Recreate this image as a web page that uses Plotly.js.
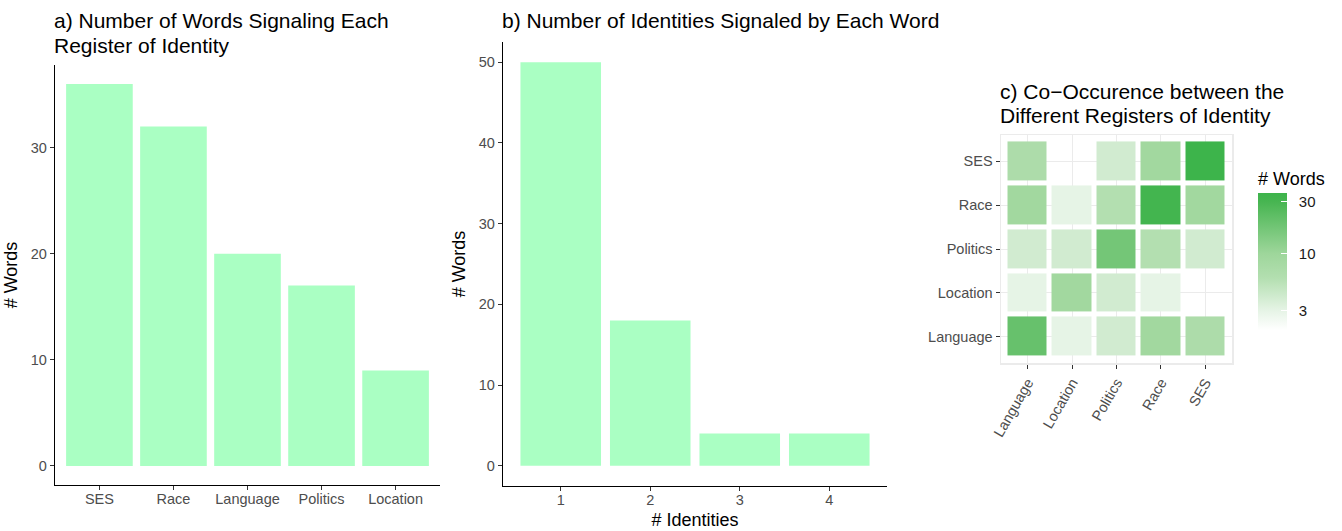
<!DOCTYPE html>
<html>
<head>
<meta charset="utf-8">
<script src="https://cdn.plot.ly/plotly-3.0.1.min.js"></script>
<style>html,body{margin:0;padding:0;background:#fff;}#chart{width:1342px;height:531px;}</style>
</head>
<body>
<div id="chart"></div>
<script>
// ---- data ----
const registersSorted = ["SES", "Race", "Language", "Politics", "Location"];
const wordsPerRegister = [36, 32, 20, 17, 9];

const identityCounts = [1, 2, 3, 4];
const wordsPerIdentityCount = [50, 18, 4, 4];

const registers = ["Language", "Location", "Politics", "Race", "SES"];
// co-occurrence counts (rows = y register, cols = x register); null = none
const coOccurrence = [
  [20, 3, 4, 9, 7],
  [3, 9, 4, 3, null],
  [4, 4, 17, 6, 4],
  [9, 3, 6, 32, 9],
  [7, null, 4, 9, 36]
];
const colorTicks = [3, 10, 30];

// ---- helpers ----
const W = 1342, H = 531;
const fx = px => px / W;
const fy = px => 1 - px / H;
const FONT = "Liberation Sans, Arial, sans-serif";
const barColor = "#aaffc3";
const tickFont = {family: FONT, size: 14.5, color: "#4d4d4d"};
const axTitleFont = {family: FONT, size: 18, color: "#000"};
const titleFont = {family: FONT, size: 21, color: "#000"};

const logZ = coOccurrence.map(r => r.map(v => v == null ? null : Math.log10(v)));
const zmin = Math.log10(2), zmax = Math.log10(36);
const pos = v => (Math.log10(v) - zmin) / (zmax - zmin);

const traces = [
  {type: "bar", x: registersSorted, y: wordsPerRegister, xaxis: "x", yaxis: "y",
   marker: {color: barColor}, width: 0.9, showlegend: false},
  {type: "bar", x: identityCounts, y: wordsPerIdentityCount, xaxis: "x2", yaxis: "y2",
   marker: {color: barColor}, width: 0.9, showlegend: false},
  {type: "heatmap", x: registers, y: registers, z: logZ, xaxis: "x3", yaxis: "y3",
   xgap: 5, ygap: 5, zmin: zmin, zmax: zmax, hoverongaps: false,
   colorscale: [[0, "#ffffff"], [pos(3), "#e6f4e6"], [pos(6), "#b3dfb0"], [pos(10), "#9ed69b"], [pos(30), "#47b551"], [1, "#3db44b"]],
   colorbar: {
     title: {text: "# Words", side: "top", font: {family: FONT, size: 18, color: "#000"}},
     thickness: 29, thicknessmode: "pixels", len: 162, lenmode: "pixels",
     x: fx(1258), xanchor: "left", y: fy(168), yanchor: "top", xpad: 0, ypad: 0,
     outlinewidth: 0, tickvals: colorTicks.map(Math.log10),
     ticktext: colorTicks.map(v => "\u00a0\u00a0" + v),
     ticks: "inside", tickcolor: "#ffffff", ticklen: 6, tickwidth: 1,
     tickfont: {family: FONT, size: 15, color: "#1a1a1a"}
   }}
];

const baseAxis = {
  showgrid: false, zeroline: false, showline: true, linecolor: "#000", linewidth: 1.2,
  ticks: "outside", ticklen: 4, tickcolor: "#333", tickwidth: 1, tickfont: tickFont,
  fixedrange: true
};

const layout = {
  width: W, height: H, margin: {l: 0, r: 0, t: 0, b: 0},
  paper_bgcolor: "#fff", plot_bgcolor: "rgba(0,0,0,0)",
  font: {family: FONT},
  showlegend: false,
  bargap: 0.1,
  xaxis: Object.assign({}, baseAxis, {domain: [fx(55), fx(440)], anchor: "y",
    type: "category", range: [-0.6, 4.6], ticklabelstandoff: -4}),
  yaxis: Object.assign({}, baseAxis, {domain: [fy(485), fy(65)], anchor: "x",
    range: [-1.8, 37.8], tickvals: [0, 10, 20, 30],
    title: {text: "# Words", font: axTitleFont, standoff: 8}}),
  xaxis2: Object.assign({}, baseAxis, {domain: [fx(503), fx(887)], anchor: "y2",
    range: [0.355, 4.645], tickvals: [1, 2, 3, 4], ticklabelstandoff: -4,
    title: {text: "# Identities", font: axTitleFont, standoff: 6}}),
  yaxis2: Object.assign({}, baseAxis, {domain: [fy(486), fy(42)], anchor: "x2",
    range: [-2.5, 52.5], tickvals: [0, 10, 20, 30, 40, 50],
    title: {text: "# Words", font: axTitleFont, standoff: 8}}),
  xaxis3: {domain: [fx(1001), fx(1232)], anchor: "y3", type: "category",
    range: [-0.6, 4.6], showgrid: true, gridcolor: "#ebebeb", gridwidth: 1,
    zeroline: false, showline: true, mirror: true, linecolor: "#ebebeb", linewidth: 1.5,
    ticks: "outside", ticklen: 4, tickcolor: "#333", tickangle: -60,
    tickfont: tickFont, fixedrange: true},
  yaxis3: {domain: [fy(363), fy(135)], anchor: "x3", type: "category",
    range: [-0.6, 4.6], showgrid: true, gridcolor: "#ebebeb", gridwidth: 1,
    zeroline: false, showline: true, mirror: true, linecolor: "#ebebeb", linewidth: 1.5,
    ticks: "outside", ticklen: 4, tickcolor: "#333",
    tickfont: tickFont, fixedrange: true},
  annotations: [
    {text: "a) Number of Words Signaling Each", x: fx(53), y: fy(21)},
    {text: "Register of Identity", x: fx(53), y: fy(45)},
    {text: "b) Number of Identities Signaled by Each Word", x: fx(501), y: fy(21)},
    {text: "c) Co\u2212Occurence between the", x: fx(999), y: fy(91)},
    {text: "Different Registers of Identity", x: fx(999), y: fy(115)}
  ].map(a => Object.assign({xref: "paper", yref: "paper", xanchor: "left", yanchor: "middle",
    align: "left", showarrow: false, font: titleFont, borderpad: 0}, a))
};

Plotly.newPlot("chart", traces, layout, {displayModeBar: false, staticPlot: true});
</script>
</body>
</html>
